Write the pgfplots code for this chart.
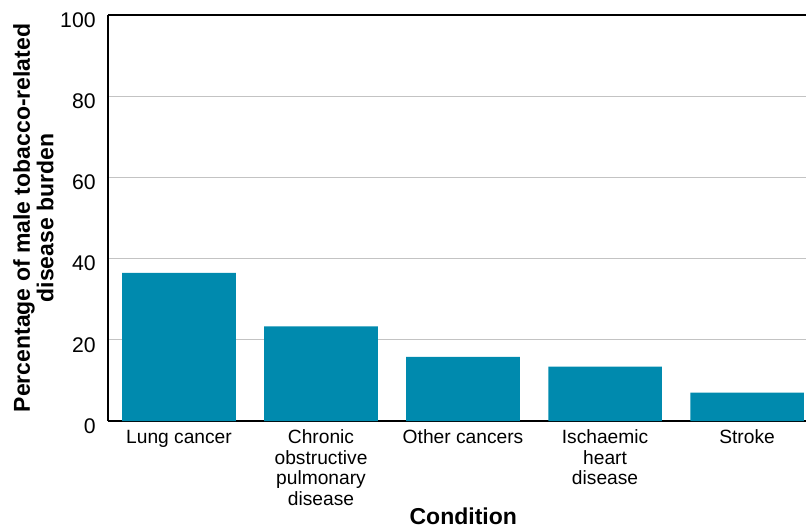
\documentclass[border=0pt]{standalone}
\usepackage{pgfplots}
\pgfplotsset{compat=1.18}
\usepackage{fontspec}
\setmainfont{Liberation Sans}
\definecolor{barcol}{RGB}{0,138,174}
\definecolor{gridcol}{RGB}{195,195,195}
\begin{document}
\begin{tikzpicture}
\begin{axis}[
  scale only axis,
  width=349pt, height=203pt,
  xmin=-0.5, xmax=4.415,
  ymin=0, ymax=100,
  ytick={0,20,40,60,80,100},
  xtick={0,1,2,3,4},
  xticklabels={Lung cancer,{Chronic\\obstructive\\pulmonary\\disease},Other cancers,{Ischaemic\\heart\\disease},Stroke},
  major tick length=0pt,
  axis x line*=bottom, axis y line*=left,
  axis line style={-, black, line width=1pt},
  ymajorgrids,
  grid style={gridcol, line width=0.6pt},
  /pgf/number format/assume math mode=true,
  yticklabel style={font=\fontsize{10.6}{12}\selectfont, inner sep=0pt, anchor=east, xshift=-6pt, yshift=-2.5pt},
  xticklabel style={font=\fontsize{9.6}{10.2}\selectfont, align=center, inner sep=0pt, anchor=north, yshift=-4.3pt},
  ylabel={Percentage of male tobacco-related\\disease burden},
  ylabel style={font=\bfseries\fontsize{11.5}{10.5}\selectfont, align=center, inner sep=0pt, rotate=0, at={(axis description cs:-0.0774,0.5)}, anchor=south},
  xlabel={Condition},
  xlabel style={font=\bfseries\fontsize{11.5}{13}\selectfont, inner sep=0pt, at={(axis description cs:0.509,-0.256)}, anchor=base},
  clip=false,
]
\addplot[ybar, bar width=0.8, fill=barcol, draw=none] coordinates {(0,36.5) (1,23.3) (2,15.8) (3,13.4) (4,7.0)};
\draw[black, line width=1pt] (rel axis cs:0,1) -- (rel axis cs:1,1);
\coordinate (SW) at (rel axis cs:0,0);
\coordinate (NE) at (rel axis cs:1,1);
\end{axis}
\pgfresetboundingbox
\path ([xshift=-54pt,yshift=-54pt]SW) rectangle ([yshift=7.5pt]NE);
\end{tikzpicture}
\end{document}
